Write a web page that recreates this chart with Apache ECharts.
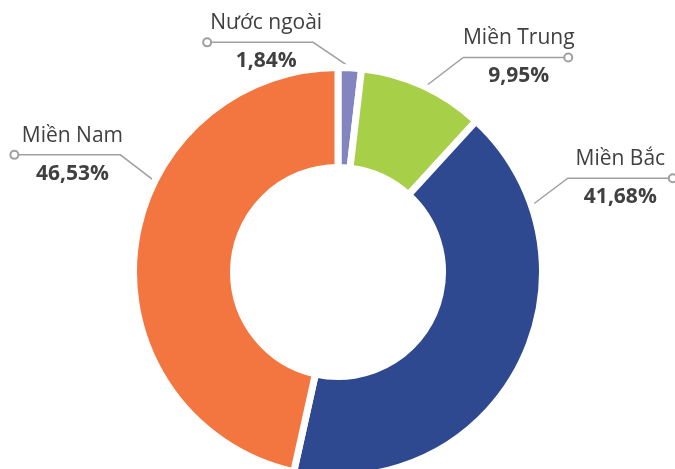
<!DOCTYPE html>
<html>
<head>
<meta charset="utf-8">
<script src="https://cdn.jsdelivr.net/npm/echarts@6/dist/echarts.min.js"></script>
<style>
  html, body { margin: 0; padding: 0; background: #fff; }
  #chart { width: 675px; height: 469px; }
</style>
</head>
<body>
<div id="chart"></div>
<script>
// dữ liệu
var names = ['Nước ngoài', 'Miền Trung', 'Miền Bắc', 'Miền Nam'];
var shares = [1.84, 9.95, 41.68, 46.53];
var colors = ['#8385c1', '#a7cf47', '#2e4990', '#f37540'];

// vị trí nhãn: góc điểm bắt đầu (độ, theo chiều kim đồng hồ từ đỉnh), khuỷu, độ dài đoạn ngang, lệch chữ
var labelAngle = [3.4, 25.2, 71, 296.4];
var elbowDx = [-37, 38, 36, -34];
var elbowDy = [-25, -29, -27, -26];
var hLen = [-106, 105, 105, -106];
var textShift = [6, 3, 0, 5];

var cx = 338, cy = 272;
var rOuter = 204.5, rInner = 104.5, rStart = 205;

var ends = [];
function linePoints(i) {
  var a = labelAngle[i] * Math.PI / 180;
  var s = [cx + rStart * Math.sin(a), cy - rStart * Math.cos(a)];
  var e = [s[0] + elbowDx[i], s[1] + elbowDy[i]];
  var f = [e[0] + hLen[i], e[1]];
  return [s, e, f];
}
for (var i = 0; i < names.length; i++) ends.push(linePoints(i)[2]);

var myChart = echarts.init(document.getElementById('chart'));

var option = {
  animation: false,
  series: [
    {
      type: 'pie',
      center: [cx, cy],
      radius: [rInner, rOuter],
      startAngle: 90,
      clockwise: true,
      avoidLabelOverlap: false,
      itemStyle: { borderColor: '#fff', borderWidth: 7 },
      label: {
        show: true,
        position: 'outside',
        formatter: function (p) {
          return '{n|' + p.name + '}\n{p|' + p.value.toFixed(2).replace('.', ',') + '%}';
        },
        rich: {
          n: { fontFamily: 'Open Sans', fontSize: 21, color: '#404040', lineHeight: 38 },
          p: { fontFamily: 'Open Sans', fontSize: 21, fontWeight: 'bold', color: '#404040', lineHeight: 38 }
        }
      },
      labelLine: {
        show: true,
        lineStyle: { color: '#a0a0a0', width: 1.5 }
      },
      labelLayout: function (params) {
        var i = params.dataIndex;
        var pts = linePoints(i);
        return {
          x: (pts[1][0] + pts[2][0]) / 2 + textShift[i],
          y: pts[1][1],
          align: 'center',
          verticalAlign: 'middle',
          labelLinePoints: pts
        };
      },
      emphasis: { disabled: true },
      data: names.map(function (n, i) {
        return { name: n, value: shares[i], itemStyle: { color: colors[i] } };
      })
    }
  ],
  graphic: ends.map(function (p) {
    return {
      type: 'circle',
      shape: { cx: p[0], cy: p[1], r: 4 },
      style: { fill: '#fff', stroke: '#a0a0a0', lineWidth: 2 },
      z: 100
    };
  })
};

myChart.setOption(option);
</script>
</body>
</html>
